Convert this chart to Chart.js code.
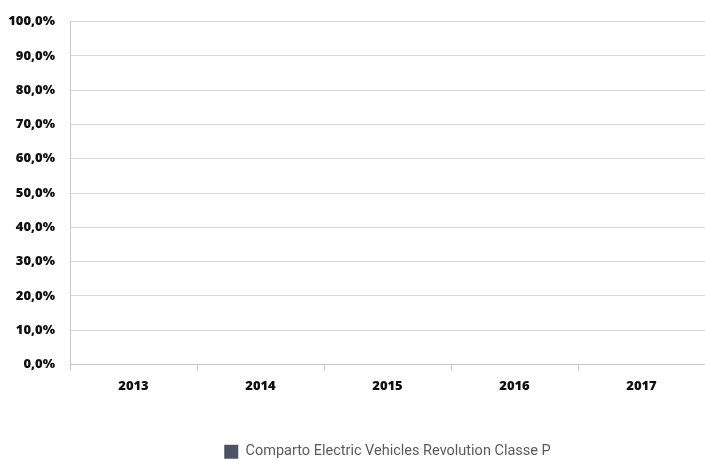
<!DOCTYPE html>
<html>
<head>
<meta charset="utf-8">
<script src="https://cdn.jsdelivr.net/npm/chart.js@4"></script>
<style>
	body{margin:0;background:#fff;}
	#wrap{width:705px;height:461px;}
</style>
</head>
<body>
<div id="wrap"><canvas id="barChart"></canvas></div>
<script>
var categories = ['2013', '2014', '2015', '2016', '2017'];
var seriesName = 'Comparto Electric Vehicles Revolution Classe P';
var seriesValues = [0, 0, 0, 0, 0];
var yTicks = [0, 10, 20, 30, 40, 50, 60, 70, 80, 90, 100];

function fmtPct(v){
	return v.toFixed(1).replace('.', ',') + '%';
}

var tickFont = { family: '"Open Sans", "DejaVu Sans", sans-serif', size: 13, weight: '800', lineHeight: 1 };

var barCanvas = document.getElementById('barChart');
var barData = {
	labels: categories,
	datasets: [
		{
			label: seriesName,
			data: seriesValues,
			backgroundColor: '#4a5466',
			borderWidth: 0
		}
	]
}
var barOptions = {
	responsive: true,
	maintainAspectRatio: false,
	animation: false,
	layout: { padding: { top: 9, right: 0, left: 0, bottom: -8 } },
	plugins: {
		tooltip: { enabled: false },
		legend: {
			position: 'bottom',
			fullSize: false,
			labels: {
				boxWidth: 14,
				boxHeight: 14,
				padding: 22,
				color: '#5a5a5a',
				font: { family: '"Liberation Sans Narrow", "Roboto", sans-serif', size: 14.5 }
			}
		}
	},
	scales: {
		x: {
			afterFit: function(axis){ axis.height += 21; },
			grid: {
				offset: true,
				drawOnChartArea: false,
				drawTicks: true,
				tickLength: 6,
				color: '#c8c8c8'
			},
			border: { color: '#c8c8c8' },
			ticks: {
				color: '#111',
				padding: 9,
				font: tickFont
			}
		},
		y: {
			min: 0,
			max: 100,
			afterBuildTicks: function(axis){
				axis.ticks = yTicks.map(function(v){ return { value: v }; });
			},
			afterFit: function(axis){ axis.width = 70; },
			grid: { color: '#d9d9d9', drawTicks: false },
			border: { color: '#c8c8c8' },
			ticks: {
				color: '#111',
				padding: 15,
				callback: function(v){ return fmtPct(v); },
				font: tickFont
			}
		}
	}
}
var barChart = new Chart(barCanvas, {
	type: 'bar',
	data: barData,
	options: barOptions
})
</script>
</body>
</html>
